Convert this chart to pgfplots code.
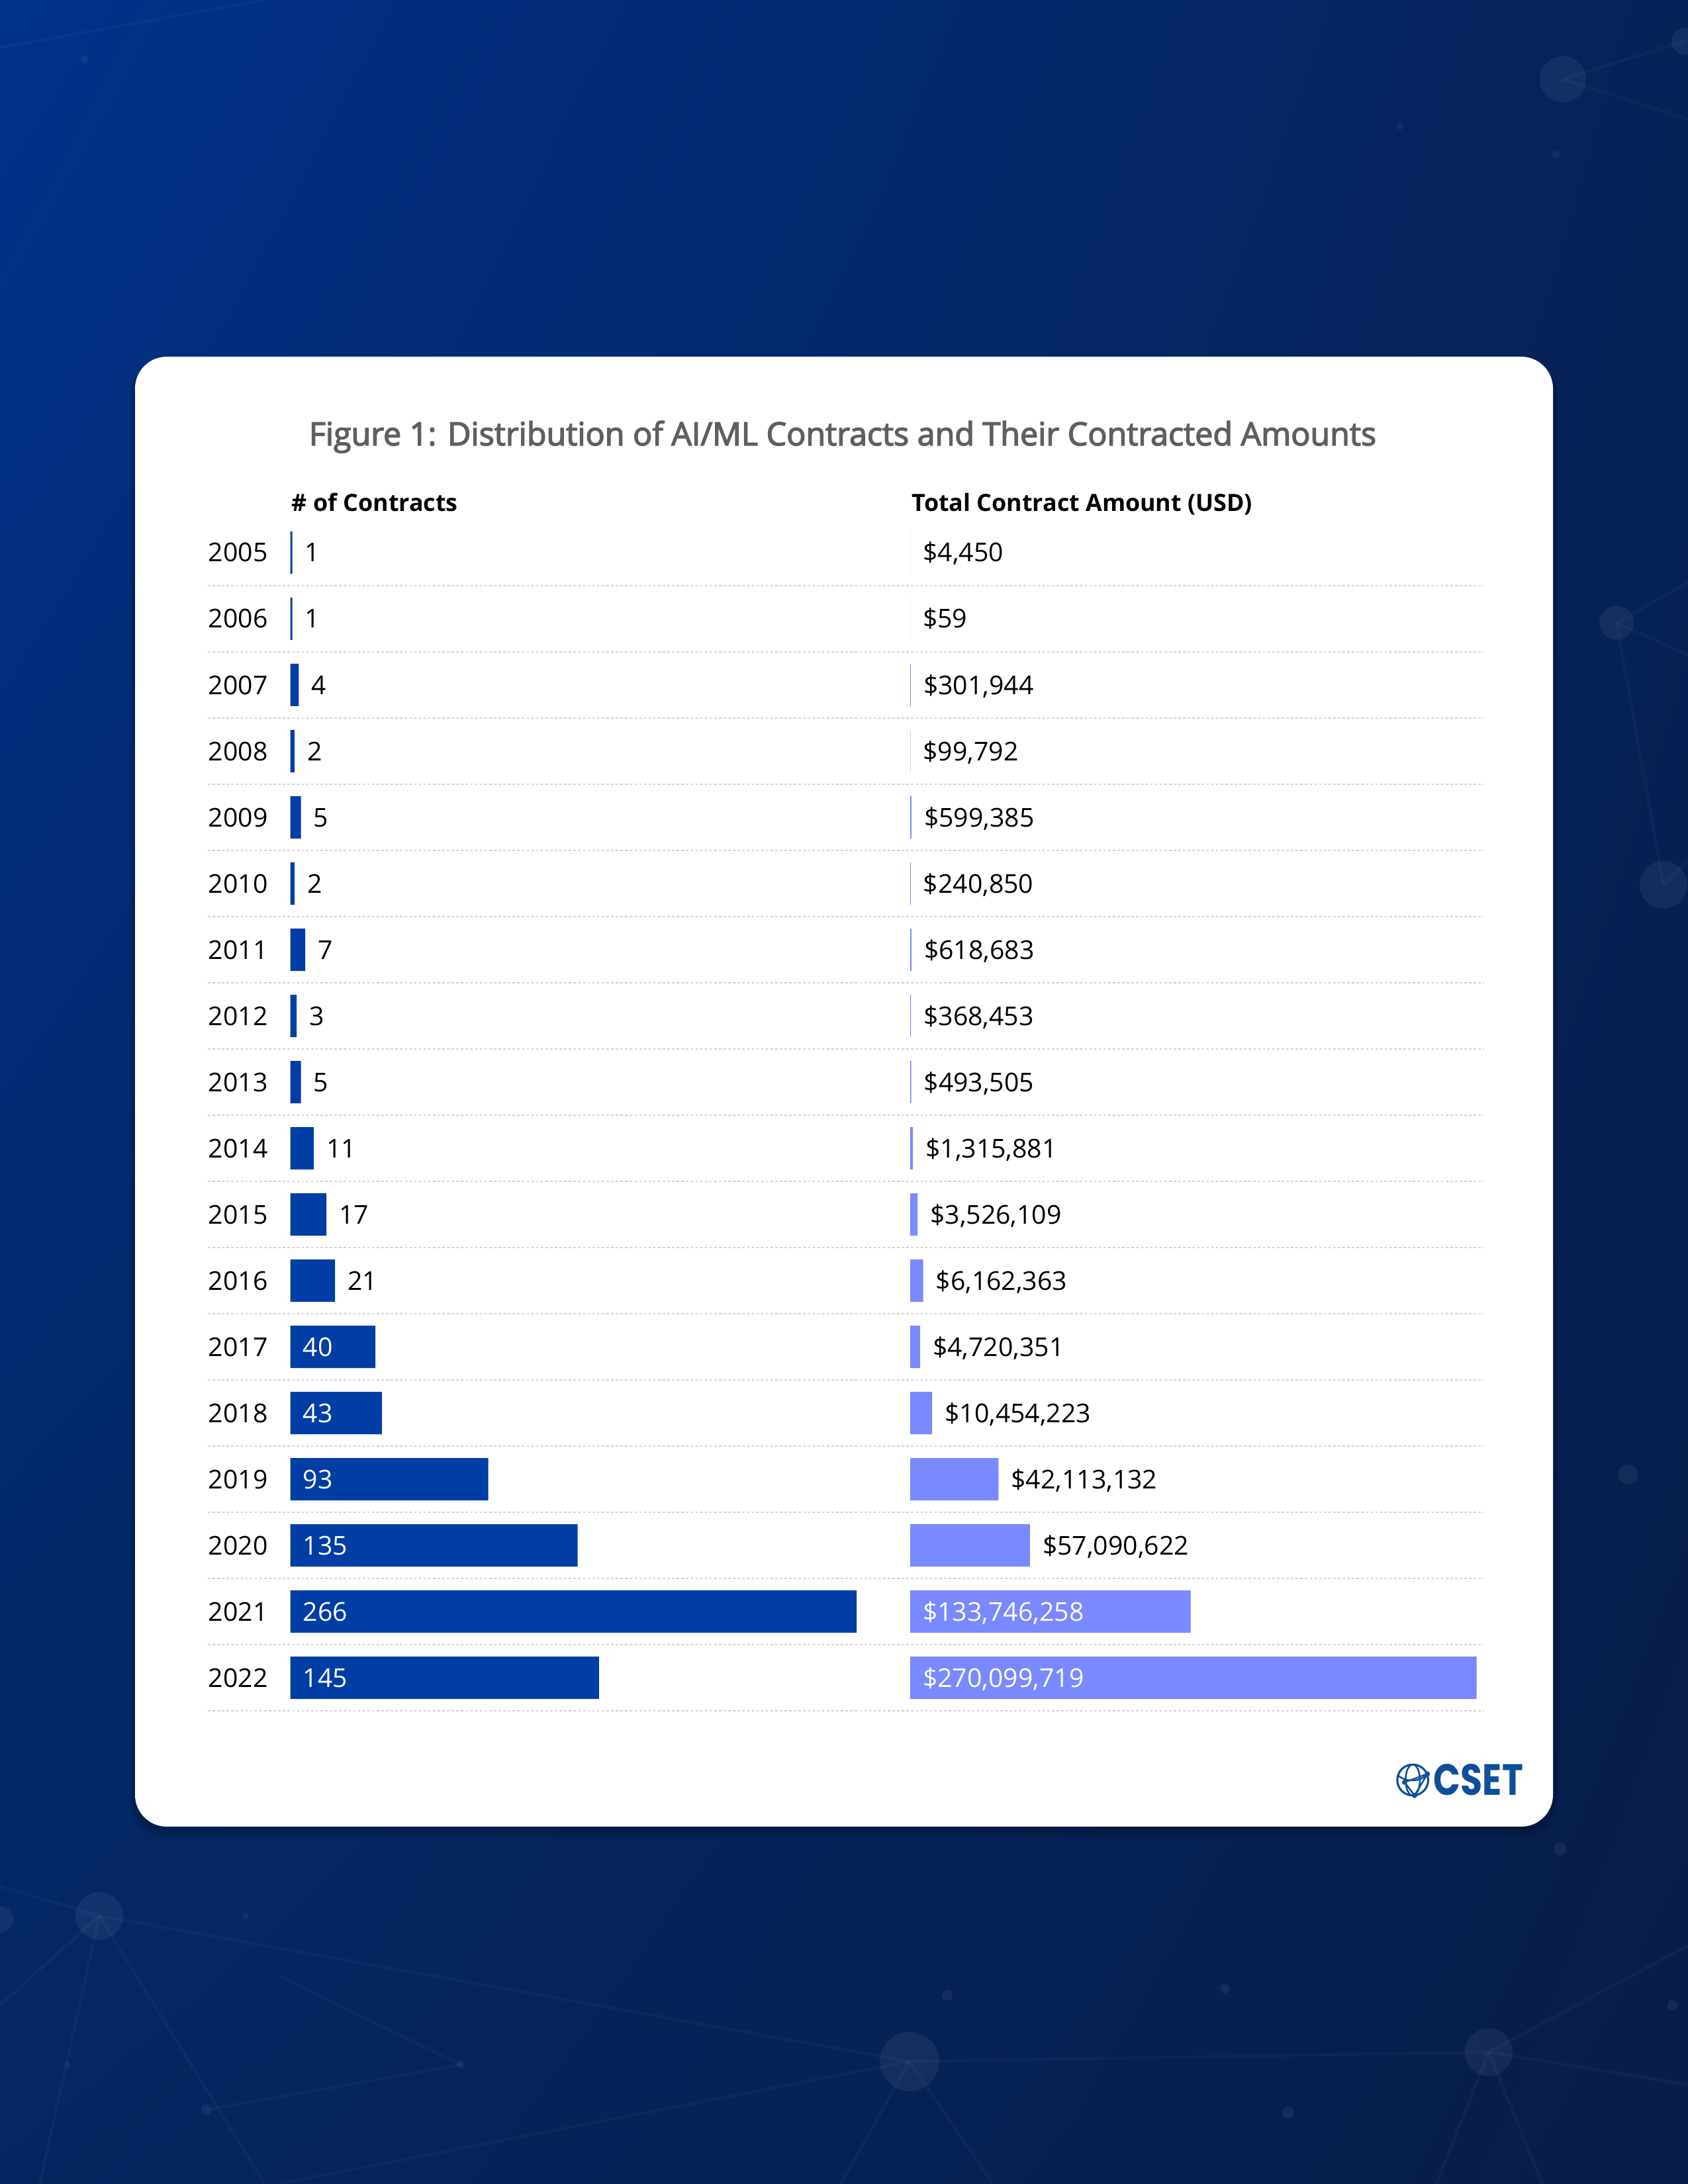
\documentclass[border=0pt]{standalone}
\usepackage{pgfplots}
\pgfplotsset{compat=1.18}
\usepackage{pgfplotstable}
\usetikzlibrary{shadings}
\usepackage{fontspec}
\setmainfont{Open Sans}
\newfontfamily\medfont{Open Sans}[FakeBold=3]
\newfontfamily\logofont{Poppins}
\newcommand{\lbl}{\fontsize{9.4bp}{11bp}\selectfont}

\definecolor{barA}{RGB}{0,62,166}
\definecolor{barB}{RGB}{122,137,255}
\definecolor{sepc}{RGB}{210,210,210}
\definecolor{titlec}{RGB}{95,95,95}
\definecolor{logoc}{RGB}{13,79,155}
\definecolor{bgUL}{RGB}{0,49,138}
\definecolor{bgUR}{RGB}{6,34,88}
\definecolor{bgLL}{RGB}{4,38,96}
\definecolor{bgLR}{RGB}{8,29,72}

\pgfplotstableread{
idx year count
0 2005 1
1 2006 1
2 2007 4
3 2008 2
4 2009 5
5 2010 2
6 2011 7
7 2012 3
8 2013 5
9 2014 11
10 2015 17
11 2016 21
12 2017 40
13 2018 43
14 2019 93
15 2020 135
16 2021 266
17 2022 145
}\contracts

\pgfplotstableread{
idx amount label
0 4450 \$4,450
1 59 \$59
2 301944 \$301,944
3 99792 \$99,792
4 599385 \$599,385
5 240850 \$240,850
6 618683 \$618,683
7 368453 \$368,453
8 493505 \$493,505
9 1315881 \$1,315,881
10 3526109 \$3,526,109
11 6162363 \$6,162,363
12 4720351 \$4,720,351
13 10454223 \$10,454,223
14 42113132 \$42,113,132
15 57090622 \$57,090,622
16 133746258 \$133,746,258
17 270099719 \$270,099,719
}\amounts

\pgfplotsset{
  panel/.style={
    anchor=south west, scale only axis, width=205.32bp, height=432bp,
    ymin=-0.5, ymax=17.5, y dir=reverse,
    axis line style={draw=none}, major tick length=0pt,
    xtick=\empty, clip=false,
  },
}
\tikzset{lblstyle/.style={anchor=base west, inner sep=0pt, yshift=-3.36bp, font=\lbl}}

\begin{document}
\begin{tikzpicture}
\useasboundingbox (0,0) rectangle (612bp,792bp);
\shade[upper left=bgUL, upper right=bgUR, lower left=bgLL, lower right=bgLR] (0,0) rectangle (612bp,792bp);
\begin{scope}
\clip (0,0) rectangle (612bp,792bp);
\begin{scope}[x=0.24bp, y=-0.24bp, shift={(0,792bp)}]
  \begin{scope}[draw=white, draw opacity=0.03, line width=1.1bp]
    \draw (0,72) -- (398,0);
    \draw (2361,120) -- (2545,62);
    \draw (2361,120) -- (2550,180);
    \draw (2442,941) -- (2550,880);
    \draw (2442,941) -- (2513,1337);
    \draw (2442,941) -- (2550,990);
    \draw (2513,1337) -- (2550,1300);
    \draw (150,2895) -- (1374,3115);
    \draw (1374,3115) -- (2249,3101);
    \draw (2249,3101) -- (2550,2940);
    \draw (2249,3101) -- (2550,3150);
    \draw (1374,3115) -- (420,3300);
    \draw (150,2895) -- (0,2850);
    \draw (150,2895) -- (0,3030);
    \draw (150,2895) -- (400,3300);
    \draw (696,3120) -- (312,3188);
    \draw (696,3120) -- (420,2985);
    \draw (1374,3115) -- (1500,3300);
    \draw (1374,3115) -- (1270,3300);
    \draw (2249,3101) -- (2170,3300);
    \draw (2249,3101) -- (2330,3300);
    \draw (150,2895) -- (60,3300);
  \end{scope}
  \begin{scope}[fill=white, fill opacity=0.06]
    \fill (2361,120) circle (35);
    \fill (2545,62) circle (20);
    \fill (2351,234) circle (6);
    \fill (2442,941) circle (26);
    \fill (2513,1337) circle (36);
    \fill (2460,2228) circle (15);
    \fill (2357,2794) circle (10);
    \fill (2527,3030) circle (8);
    \fill (128,90) circle (6);
    \fill (2115,191) circle (5);
    \fill (150,2895) circle (36);
    \fill (1374,3115) circle (45);
    \fill (2249,3101) circle (36);
    \fill (1431,3015) circle (8);
    \fill (1850,3005) circle (7);
    \fill (696,3120) circle (6);
    \fill (312,3188) circle (8);
    \fill (1946,3192) circle (9);
    \fill (102,3120) circle (5);
    \fill (371,2895) circle (5);
    \fill (0,2900) circle (20);
  \end{scope}
\end{scope}
\end{scope}

% card shadow and card
\fill[black, opacity=0.10, rounded corners=13bp] (47bp,125.5bp) rectangle (565bp,661bp);
\fill[black, opacity=0.10, rounded corners=12bp] (48bp,127.5bp) rectangle (564bp,662bp);
\fill[white, rounded corners=11.5bp] (48.96bp,129.6bp) rectangle (563.04bp,662.64bp);

% title and headers
\node[anchor=base, inner sep=0pt, text=titlec] at (305.5bp,630.5bp)
  {\resizebox{386.9bp}{!}{\medfont\fontsize{12.2bp}{14bp}\selectfont Figure 1: Distribution of AI/ML Contracts and Their Contracted Amounts}};
\node[anchor=base west, inner sep=0pt] at (105.6bp,606.5bp)
  {\bfseries\fontsize{8.6bp}{10bp}\selectfont \# of Contracts};
\node[anchor=base west, inner sep=0pt] at (330.5bp,606.5bp)
  {\bfseries\fontsize{8.6bp}{10bp}\selectfont Total Contract Amount (USD)};

% left panel: number of contracts
\begin{axis}[panel, at={(105.24bp,171.6bp)},
  xmin=0, xmax=266,
  ytick={0,...,17},
  yticklabels from table={\contracts}{year},
  yticklabel style={anchor=base west, inner sep=0pt, xshift=-29.88bp, yshift=-3.36bp, font=\lbl, text=black},
]
\pgfplotsinvokeforeach{0,...,17}{
  \draw[sepc, line width=0.6bp, dash pattern=on 0.85bp off 0.85bp] (axis cs:-38.71,#1+0.5) -- (axis cs:560.4,#1+0.5);
}
\addplot[xbar, bar width=0.64, bar shift=0pt, fill=barA, draw=none] table[x=count, y=idx] {\contracts};
\addplot[draw=none, mark=none, x filter/.expression={x<40 ? x : nan},
  nodes near coords, point meta=explicit symbolic,
  nodes near coords style={lblstyle, xshift=4.4bp, text=black}]
  table[x=count, y=idx, meta=count] {\contracts};
\addplot[draw=none, mark=none, x filter/.expression={x>=40 ? 0 : nan},
  nodes near coords, point meta=explicit symbolic,
  nodes near coords style={lblstyle, xshift=4.4bp, text=white}]
  table[x=count, y=idx, meta=count] {\contracts};
\end{axis}

% right panel: total contract amount
\begin{axis}[panel, at={(330bp,171.6bp)},
  xmin=0, xmax=270099719,
  ytick=\empty,
]
\addplot[xbar, bar width=0.64, bar shift=0pt, fill=barB, draw=none] table[x=amount, y=idx] {\amounts};
\addplot[draw=none, mark=none, x filter/.expression={x<100000000 ? x : nan},
  nodes near coords, point meta=explicit symbolic,
  nodes near coords style={lblstyle, xshift=4.4bp, text=black}]
  table[x=amount, y=idx, meta=label] {\amounts};
\addplot[draw=none, mark=none, x filter/.expression={x>=100000000 ? 0 : nan},
  nodes near coords, point meta=explicit symbolic,
  nodes near coords style={lblstyle, xshift=4.4bp, text=white}]
  table[x=amount, y=idx, meta=label] {\amounts};
\end{axis}

% logo
\begin{scope}[logoc]
  \draw[line width=0.75bp] (512.2bp,146.5bp) circle (5.6bp);
  \draw[line width=0.6bp] (512.2bp,146.5bp) ellipse (2.6bp and 5.6bp);
  \draw[line width=0.6bp] (506.8bp,148.2bp) .. controls (510bp,145.5bp) and (515bp,145.8bp) .. (517.6bp,148.7bp);
  \draw[line width=0.6bp] (509.25bp,145.7bp) -- (517.5bp,148.7bp) -- (512.85bp,140.9bp) -- cycle;
  \fill (509.25bp,145.7bp) circle (0.95bp);
  \fill (517.5bp,148.7bp) circle (0.95bp);
  \fill (512.85bp,140.9bp) circle (0.95bp);
  \node[anchor=base west, inner sep=0pt] at (519.6bp,140.9bp)
    {\resizebox{32.4bp}{11.3bp}{\logofont\bfseries CSET}};
\end{scope}
\end{tikzpicture}
\end{document}
